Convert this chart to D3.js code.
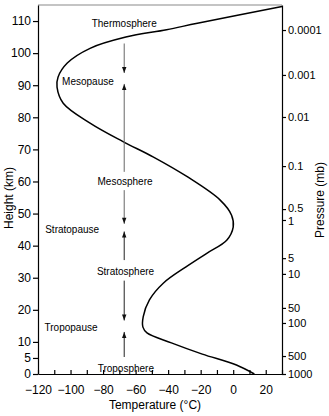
<!DOCTYPE html>
<html>
<head>
<meta charset="utf-8">
<script src="https://cdn.jsdelivr.net/npm/d3@7"></script>
<style>
  html, body { margin: 0; padding: 0; background: #fff; }
  svg { display: block; font-family: "Liberation Sans", Arial, Helvetica, sans-serif; }
</style>
</head>
<body>
<svg id="chart" width="329" height="416"></svg>
<script>
// ---- data ----
const heights      = [0, 2.8, 6.2, 9.7, 12.8, 14.6, 17.9, 23.1, 28.3, 33.4, 37.7, 41.7, 45.8, 49.5, 54.2, 61.4, 67.6, 72.5, 78.2, 84.4, 89.4, 92.5, 96.9, 101.5, 105, 107.3, 109.3, 114.5];
const temperatures = [13, 2, -19, -38, -53, -55.5, -55.3, -51.5, -43, -29, -16, -4, 0, -1, -8, -28, -49, -68, -88, -104.5, -108.3, -107.7, -102, -88, -66, -41, -22, 30];
const heightTicks  = [0, 5, 10, 20, 30, 40, 50, 60, 70, 80, 90, 100, 110];
const tempTicks    = [-120, -110, -100, -90, -80, -70, -60, -50, -40, -30, -20, -10, 0, 10, 20, 30];
const tempLabels   = [-120, -100, -80, -60, -40, -20, 0, 20];
const pressureLabels  = ["0.0001", "0.001", "0.01", "0.1", "0.5", "1", "5", "10", "50", "100", "500", "1000"];
const pressureHeights = [107.2, 93.2, 80.1, 64.8, 51.4, 48.0, 36.1, 31.2, 20.6, 15.9, 5.6, 0];
const layerNames   = ["Thermosphere", "Mesopause", "Mesosphere", "Stratopause", "Stratosphere", "Tropopause", "Troposphere"];
const layerTemps   = [-67, -89.3, -66.5, -99, -66.2, -99.7, -66];   // label centre (°C)
const layerHeights = [109.3, 91.3, 60.1, 45.1, 32.0, 14.6, 1.8];   // label centre (km)
// arrow segments along the divider line
const arrowFrom = [103.0, 90.4, 57.3, 44.4, 29.1, 13.1];
const arrowTo   = [93.8, 63.0, 46.8, 35.5, 16.7, 5.3];
const arrowHeadUp = [false, true, false, true, false, true];
const arrowTemp = -67;

// ---- layout ----
const svg = d3.select("#chart");
const mLeft = 38, mRight = 282, mTop = 5, mBottom = 374;
const x = d3.scaleLinear().domain([-120, 30]).range([mLeft, mRight]);
const y = d3.scaleLinear().domain([0, 115]).range([mBottom, mTop]);

// top border
svg.append("line").attr("x1", mLeft).attr("x2", mRight).attr("y1", mTop).attr("y2", mTop)
  .attr("stroke", "#8a8a8a").attr("stroke-width", 1.2);

// left axis
const gl = svg.append("g").attr("transform", `translate(${mLeft},0)`)
  .call(d3.axisLeft(y).tickValues(heightTicks).tickSize(5).tickSizeOuter(0).tickPadding(2).tickFormat(d3.format("d")));
// right axis
const gr = svg.append("g").attr("transform", `translate(${mRight},0)`)
  .call(d3.axisRight(y).tickValues(pressureHeights).tickSize(4).tickSizeOuter(0).tickPadding(2)
    .tickFormat((d, i) => pressureLabels[i]));
// bottom axis: ticks (inward) and labels
const gb = svg.append("g").attr("transform", `translate(0,${mBottom})`)
  .call(d3.axisBottom(x).tickValues(tempTicks).tickSizeInner(-4).tickSizeOuter(0).tickFormat(""));
const gb2 = svg.append("g").attr("transform", `translate(0,${mBottom})`)
  .call(d3.axisBottom(x).tickValues(tempLabels).tickSize(0).tickPadding(11).tickFormat(d3.format("d")));
gb2.select(".domain").remove();

[gl, gr, gb, gb2].forEach(g => {
  g.selectAll("text").attr("font-size", 12).attr("fill", "#000")
    .attr("font-family", "'Liberation Sans', Arial, Helvetica, sans-serif");
  g.selectAll("line, path").attr("stroke", "#000").attr("stroke-width", 1.2);
});
// pressure labels slightly smaller; separate the crowded 0.5 / 1 pair a touch
gr.selectAll("text").attr("font-size", 11)
  .attr("y", (d, i) => pressureLabels[i] === "0.5" ? -1.2 : (pressureLabels[i] === "1" ? 1.2 : 0));

// axis titles
svg.append("text").attr("transform", `translate(13,198) rotate(-90)`)
  .attr("text-anchor", "middle").attr("font-size", 12).text("Height (km)");
svg.append("text").attr("transform", `translate(324,200) rotate(-90)`)
  .attr("text-anchor", "middle").attr("font-size", 12).text("Pressure (mb)");
svg.append("text").attr("x", 155).attr("y", 409)
  .attr("text-anchor", "middle").attr("font-size", 12).text("Temperature (°C)");

// temperature profile
const pts = heights.map((h, i) => [temperatures[i], h]);
svg.append("path").datum(pts)
  .attr("fill", "none").attr("stroke", "#000").attr("stroke-width", 1.5)
  .attr("d", d3.line().x(d => x(d[0])).y(d => y(d[1])).curve(d3.curveCatmullRom.alpha(0.5)));

// divider arrows
arrowFrom.forEach((f, i) => {
  const xx = x(arrowTemp);
  const col = i < 3 ? "#666" : "#222";
  svg.append("line").attr("x1", xx).attr("x2", xx).attr("y1", y(f)).attr("y2", y(arrowTo[i]))
    .attr("stroke", col).attr("stroke-width", 1);
  const upTip = y(Math.max(f, arrowTo[i]));
  const downTip = y(Math.min(f, arrowTo[i]));
  if (arrowHeadUp[i]) {
    svg.append("path").attr("d", `M${xx - 2.2},${upTip + 6} L${xx + 2.2},${upTip + 6} L${xx},${upTip} Z`).attr("fill", "#111");
  } else {
    svg.append("path").attr("d", `M${xx - 2.2},${downTip - 6} L${xx + 2.2},${downTip - 6} L${xx},${downTip} Z`).attr("fill", "#111");
  }
});

// layer labels
layerNames.forEach((n, i) => {
  svg.append("text").attr("x", x(layerTemps[i])).attr("y", y(layerHeights[i]))
    .attr("dy", "0.35em").attr("text-anchor", "middle").attr("font-size", 10).text(n);
});
</script>
</body>
</html>
